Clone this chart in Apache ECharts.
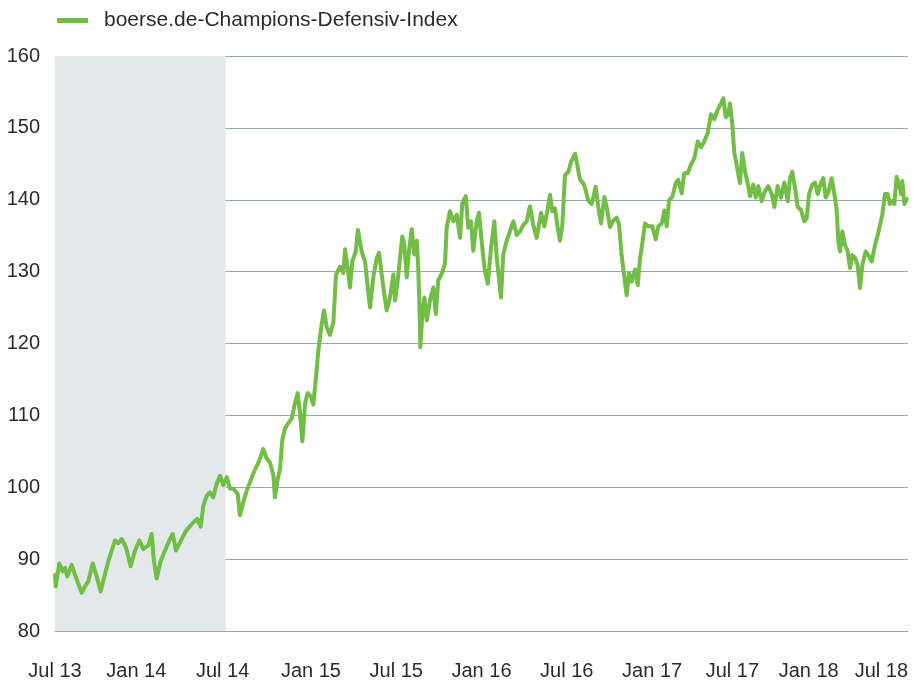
<!DOCTYPE html>
<html>
<head>
<meta charset="utf-8">
<title>boerse.de-Champions-Defensiv-Index</title>
<script src="https://cdn.jsdelivr.net/npm/echarts@6/dist/echarts.min.js"></script>
<style>
  html, body { margin: 0; padding: 0; background: #ffffff; }
  #chart { width: 914px; height: 681px; }
</style>
</head>
<body>
<div id="chart"></div>
<script>
// Series name shown in the legend
const seriesName = 'boerse.de-Champions-Defensiv-Index';

// Half-year tick labels (one every 6 months, starting Jul 2013)
const tickLabels = ['Jul 13', 'Jan 14', 'Jul 14', 'Jan 15', 'Jul 15', 'Jan 16',
                    'Jul 16', 'Jan 17', 'Jul 17', 'Jan 18', 'Jul 18'];

// Highlighted first year (months since Jul 2013)
const highlightRange = [0, 12];

// Months since 1 Jul 2013
const months = [
  0, 0.05, 0.30, 0.54, 0.70, 0.87, 1.17, 1.41, 1.64, 1.88,
  2.11, 2.34, 2.65, 2.93, 3.21, 3.45, 3.75, 3.99, 4.22, 4.45,
  4.69, 5.00, 5.32, 5.63, 5.93, 6.21, 6.56, 6.80, 6.96, 7.15,
  7.43, 7.74, 8.04, 8.28, 8.51, 8.79, 9.14, 9.45, 9.78, 10.01,
  10.25, 10.43, 10.67, 10.90, 11.13, 11.37, 11.61, 11.84, 12.08, 12.31,
  12.54, 12.85, 13.01, 13.24, 13.48, 13.79, 14.07, 14.30, 14.65, 14.89,
  15.12, 15.36, 15.47, 15.66, 15.83, 15.99, 16.18, 16.41, 16.65, 16.88,
  17.07, 17.23, 17.40, 17.59, 17.77, 18.01, 18.17, 18.34, 18.52, 18.76,
  18.92, 19.11, 19.34, 19.58, 19.77, 20.05, 20.28, 20.40, 20.59, 20.75,
  20.91, 21.15, 21.31, 21.57, 21.81, 22.00, 22.16, 22.39, 22.63, 22.79,
  22.98, 23.16, 23.33, 23.56, 23.80,
  23.92, 24.11, 24.27, 24.43, 24.57, 24.74, 24.90, 25.09, 25.27, 25.44,
  25.55, 25.65, 25.70, 25.84, 25.98, 26.15, 26.38, 26.61, 26.78, 26.96,
  27.20, 27.43, 27.55, 27.78, 28.02, 28.26, 28.49, 28.65, 28.89, 29.07,
  29.26, 29.42, 29.66, 29.82, 30.01, 30.20, 30.44, 30.67, 30.90, 31.07,
  31.37, 31.53, 31.77, 32.00, 32.24, 32.48, 32.71, 32.94, 33.18, 33.41,
  33.64, 33.88, 34.19, 34.42, 34.66, 34.82, 34.98, 35.17, 35.36, 35.52,
  35.68, 35.87, 36.11, 36.30,
  36.58, 36.77, 36.93, 37.16, 37.33, 37.51, 37.75, 38.03, 38.22, 38.41,
  38.64, 38.81, 39.04, 39.27, 39.51, 39.67, 39.86, 40.04, 40.21, 40.38,
  40.56, 40.80, 40.99, 41.15, 41.31, 41.50, 41.73, 42.01, 42.25, 42.44,
  42.68, 42.86, 43.03, 43.19, 43.42, 43.66, 43.84, 44.08, 44.26, 44.50,
  44.74, 44.97, 45.21, 45.44, 45.67, 45.91, 46.14, 46.37, 46.61, 46.85,
  47.01, 47.18, 47.36, 47.48, 47.64, 47.78,
  48.02, 48.18, 48.34, 48.53, 48.72, 48.89, 49.12, 49.29, 49.47, 49.71,
  49.94, 50.17, 50.41, 50.60, 50.83, 51.07, 51.30, 51.54, 51.70, 51.86,
  52.05, 52.24, 52.47, 52.71, 52.87, 53.04, 53.27, 53.46, 53.65, 53.88,
  54.04, 54.21, 54.39, 54.63, 54.82, 54.98, 55.10, 55.22, 55.38, 55.57,
  55.76, 55.92, 56.08, 56.27, 56.46, 56.62, 56.79, 57.02, 57.21, 57.45,
  57.68, 57.87, 58.03, 58.19, 58.38, 58.57, 58.73, 58.90, 59.04, 59.20,
  59.37, 59.51, 59.60, 59.74, 59.91
];

// Index level at each of the dates above
const indexValues = [
  87.8, 86.2, 89.4, 88.3, 88.8, 87.6, 89.2, 87.8, 86.6, 85.3,
  86.2, 86.9, 89.4, 87.6, 85.5, 87.4, 89.7, 91.2, 92.6, 92.2,
  92.8, 91.6, 89.0, 91.2, 92.6, 91.4, 91.9, 93.5, 89.7, 87.3,
  89.7, 91.2, 92.6, 93.5, 91.2, 92.3, 93.7, 94.5, 95.2, 95.6,
  94.5, 97.4, 98.8, 99.3, 98.6, 100.5, 101.6, 100.3, 101.4, 99.8,
  99.8, 99.1, 96.1, 97.9, 99.5, 101.1, 102.5, 103.4, 105.3, 104.0,
  103.4, 101.7, 98.6, 101.1, 102.6, 106.6, 108.2, 108.9, 109.6, 111.7,
  113.1, 110.4, 106.4, 111.7, 113.1, 112.6, 111.5, 114.9, 119.0, 122.7,
  124.6, 122.3, 121.2, 123.0, 129.6, 130.7, 129.8, 133.1, 130.4, 127.8,
  131.4, 132.8, 135.8, 132.8, 131.4, 127.8, 125.0, 129.2, 131.9, 132.6,
  129.6, 126.9, 124.6, 126.4, 129.6,
  126.0, 128.8, 131.9, 134.9, 133.7, 129.2, 132.9, 135.9, 132.4, 134.3,
  130.6, 124.1, 119.5, 124.1, 126.4, 123.2, 126.0, 127.8, 124.1, 128.8,
  129.7, 131.1, 136.1, 138.4, 137.0, 137.9, 134.7, 139.5, 140.5, 136.1,
  137.0, 132.9, 137.0, 138.2, 134.3, 130.6, 128.3, 133.3, 137.0, 132.0,
  126.4, 132.4, 134.3, 135.6, 137.0, 135.1, 135.6, 136.5, 137.0, 139.1,
  136.5, 134.7, 138.2, 136.3, 138.8, 140.7, 138.4, 138.8, 136.1, 134.3,
  136.3, 143.4, 143.9, 145.3,
  146.4, 144.5, 142.8, 142.3, 141.3, 139.9, 139.4, 141.8, 138.9, 136.7,
  140.4, 138.9, 136.2, 137.1, 137.5, 136.6, 132.2, 129.4, 126.7, 129.8,
  128.6, 130.3, 128.1, 131.8, 133.9, 136.7, 136.3, 136.3, 134.5, 136.3,
  136.7, 138.5, 136.3, 139.9, 140.4, 142.3, 142.8, 140.9, 143.7, 143.7,
  144.9, 145.8, 148.1, 147.3, 148.1, 149.3, 151.9, 151.2, 152.5, 153.4,
  154.1, 151.5, 151.9, 153.4, 150.5, 146.6,
  144.0, 142.3, 146.5, 144.0, 142.3, 140.5, 142.1, 140.3, 141.9, 139.8,
  141.2, 141.9, 140.8, 139.0, 141.9, 140.3, 142.4, 139.8, 143.0, 143.9,
  141.7, 139.0, 138.6, 137.0, 137.4, 140.8, 142.1, 142.4, 140.8, 142.4,
  143.0, 140.3, 141.0, 143.0, 140.8, 138.6, 134.2, 132.8, 135.6, 133.7,
  132.8, 130.5, 132.3, 131.9, 130.9, 127.7, 130.9, 132.8, 132.3, 131.4,
  133.7, 135.1, 136.5, 137.9, 140.8, 140.8, 139.4, 139.8, 139.4, 143.2,
  142.1, 140.8, 142.6, 139.4, 140.1
];

const lineColor = '#71bd45';
const gridColor = '#97a6b0';
const textColor = '#2b2b2b';
const fontFamily = 'Liberation Sans, Arial, Helvetica, sans-serif';
const axisFontSize = 20;

// Extra leftward nudge (px) for crowded labels near the right edge
const labelNudge = { 'Jan 14': 4, 'Jul 14': 3, 'Jul 17': 5, 'Jan 18': 14 };

const seriesData = months.map((m, i) => [m, indexValues[i]]);

const richLabels = { plain: { fontSize: axisFontSize, color: textColor, fontFamily: fontFamily } };
Object.keys(labelNudge).forEach((label, k) => {
  richLabels['n' + k] = {
    fontSize: axisFontSize, color: textColor, fontFamily: fontFamily,
    padding: [0, labelNudge[label] * 2, 0, 0]
  };
});

function formatTick(v) {
  const label = tickLabels[Math.round(v / 6)];
  if (!label) return '';
  const k = Object.keys(labelNudge).indexOf(label);
  return k >= 0 ? '{n' + k + '|' + label + '}' : '{plain|' + label + '}';
}

const chart = echarts.init(document.getElementById('chart'), null, { renderer: 'canvas' });

chart.setOption({
  animation: false,
  backgroundColor: '#ffffff',
  textStyle: { fontFamily: fontFamily },
  grid: { left: 55, right: 6, top: 56, bottom: 48, containLabel: false },
  legend: {
    data: [{ name: seriesName, icon: 'rect' }],
    left: 57,
    top: 10,
    padding: 0,
    itemWidth: 31,
    itemHeight: 5,
    textStyle: {
      color: textColor,
      fontSize: 21,
      fontFamily: fontFamily,
      padding: [0, 0, 0, 11]
    }
  },
  xAxis: {
    type: 'value',
    min: 0,
    max: 60,
    interval: 6,
    axisLine: { show: true, lineStyle: { color: gridColor, width: 1 } },
    axisTick: { show: false },
    splitLine: { show: false },
    axisLabel: {
      color: textColor,
      fontSize: axisFontSize,
      fontFamily: fontFamily,
      margin: 30,
      alignMaxLabel: 'right',
      formatter: formatTick,
      rich: richLabels
    }
  },
  yAxis: {
    type: 'value',
    min: 80,
    max: 160,
    interval: 10,
    z: 1,
    axisLine: { show: false },
    axisTick: { show: false },
    splitLine: { show: true, lineStyle: { color: gridColor, width: 1 } },
    axisLabel: {
      color: textColor,
      fontSize: axisFontSize,
      fontFamily: fontFamily,
      margin: 15
    }
  },
  series: [
    {
      // shaded first year, kept beneath the grid lines
      type: 'line',
      name: 'shade',
      data: [],
      z: 0,
      silent: true,
      markArea: {
        silent: true,
        itemStyle: { color: '#e3e8eb' },
        data: [[{ xAxis: highlightRange[0] }, { xAxis: highlightRange[1] }]]
      }
    },
    {
      type: 'line',
      name: seriesName,
      data: seriesData,
      z: 3,
      showSymbol: false,
      symbol: 'none',
      smooth: false,
      color: lineColor,
      lineStyle: { color: lineColor, width: 4, join: 'round', cap: 'round' }
    }
  ]
});
</script>
</body>
</html>
